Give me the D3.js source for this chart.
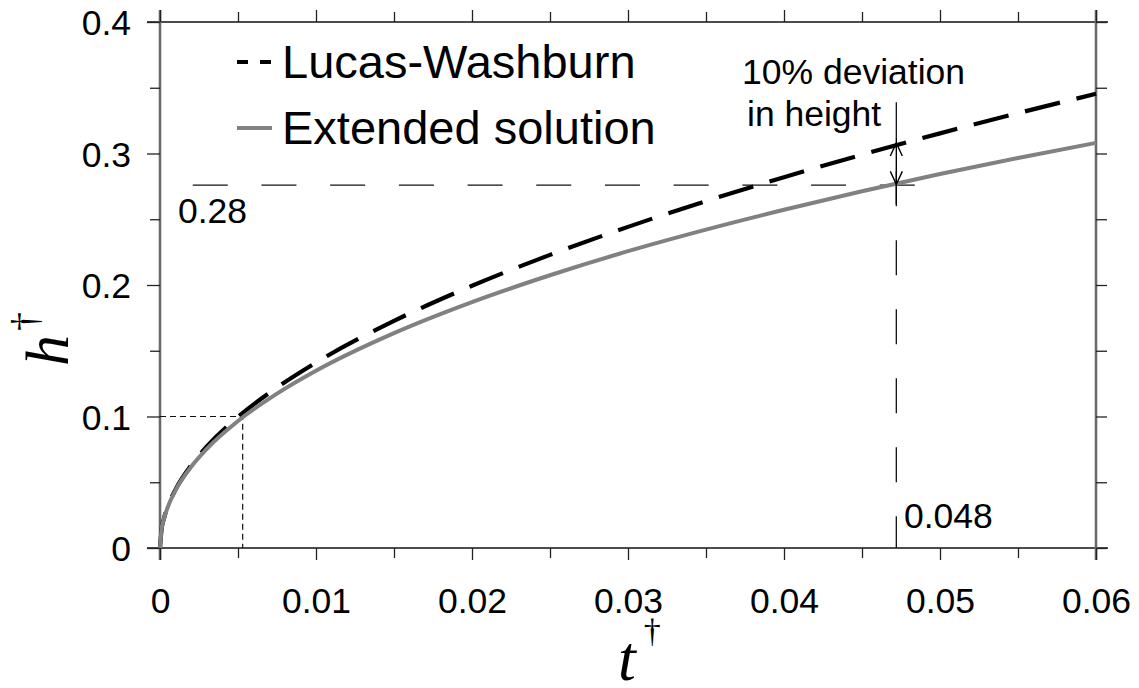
<!DOCTYPE html>
<html><head><meta charset="utf-8">
<script src="https://cdn.jsdelivr.net/npm/d3@7"></script>
<style>
html,body{margin:0;padding:0;background:#fff;}
svg{display:block;font-family:"Liberation Sans",Arial,sans-serif;}
</style></head>
<body><svg id="c" width="1139" height="688"></svg>
<script>
// ---- data ----
const tValues = [0, 0.0001, 0.00025, 0.0005, 0.001, 0.002, 0.003, 0.005, 0.0075, 0.01, 0.015, 0.02, 0.025, 0.03, 0.035, 0.04, 0.045, 0.05, 0.055, 0.06];
const lucasWashburn = [0, 0.0141, 0.0223, 0.0315, 0.0446, 0.0630, 0.0772, 0.0997, 0.1220, 0.1410, 0.1727, 0.1994, 0.2229, 0.2442, 0.2638, 0.2820, 0.2991, 0.3153, 0.3307, 0.3454];
const extendedSolution = [0, 0.0140, 0.0221, 0.0312, 0.0440, 0.0618, 0.0754, 0.0966, 0.1174, 0.1348, 0.1634, 0.1870, 0.2074, 0.2257, 0.2421, 0.2572, 0.2713, 0.2844, 0.2966, 0.3081];
const xMajorTicks = [0, 0.01, 0.02, 0.03, 0.04, 0.05, 0.06];
const xMinorTicks = [0.005, 0.015, 0.025, 0.035, 0.045, 0.055];
const xTickLabels = ["0", "0.01", "0.02", "0.03", "0.04", "0.05", "0.06"];
const yMajorTicks = [0, 0.1, 0.2, 0.3, 0.4];
const yMinorTicks = [0.05, 0.15, 0.25, 0.35];
const yTickLabels = ["0", "0.1", "0.2", "0.3", "0.4"];
const seriesNames = ["Lucas-Washburn", "Extended solution"];
// annotation values
const earlyPoint = [0.0053, 0.1];           // where the curves part
const deviationT = 0.0472;                   // vertical marker (labelled 0.048)
const deviationH = [0.2765, 0.308];          // extended vs Lucas-Washburn at deviationT
const refLineH = 0.276;                      // horizontal marker (labelled 0.28)
const refLineT = [0.0021, 0.0484];
const vertLineTop = 0.339;
const annoLabels = ["0.28", "0.048", "10% deviation", "in height"];

// ---- layout ----
const svg = d3.select("#c");
const x = d3.scaleLinear().domain([0, 0.06]).range([160, 1096]);
const y = d3.scaleLinear().domain([0, 0.4]).range([548, 22]);
const axisGray = "#6a6a6a";
const fontFam = '"Liberation Sans", Arial, sans-serif';
const tickFont = 35.5;

// axis frame lines
svg.append("line").attr("x1", 147).attr("x2", 1108).attr("y1", y(0)).attr("y2", y(0)).attr("stroke", "#111").attr("stroke-width", 1.6);
svg.append("line").attr("x1", 147).attr("x2", 1108).attr("y1", y(0.4)).attr("y2", y(0.4)).attr("stroke", "#111").attr("stroke-width", 1.6);
svg.append("line").attr("x1", x(0)).attr("x2", x(0)).attr("y1", 10).attr("y2", 560).attr("stroke", axisGray).attr("stroke-width", 2.6);
svg.append("line").attr("x1", x(0.06)).attr("x2", x(0.06)).attr("y1", 10).attr("y2", 560).attr("stroke", axisGray).attr("stroke-width", 2.6);

function styleAxis(g){ g.select(".domain").remove(); g.selectAll(".tick line").attr("stroke","#222").attr("stroke-width",1.3); }

// bottom axis
const gb = svg.append("g").attr("transform", `translate(0,${y(0)})`)
  .call(d3.axisBottom(x).tickValues(xMajorTicks).tickSize(12).tickFormat((d,i)=>xTickLabels[i]));
styleAxis(gb);
gb.selectAll("text").attr("y", 65).attr("dy", 0).attr("font-size", tickFont).attr("font-family", fontFam).attr("fill", "#000");
const gbm = svg.append("g").attr("transform", `translate(0,${y(0)})`)
  .call(d3.axisBottom(x).tickValues(xMinorTicks).tickSize(10).tickFormat(""));
styleAxis(gbm);
// top axis
const gt = svg.append("g").attr("transform", `translate(0,${y(0.4)})`)
  .call(d3.axisTop(x).tickValues(xMajorTicks).tickSize(12).tickFormat(""));
styleAxis(gt);
const gtm = svg.append("g").attr("transform", `translate(0,${y(0.4)})`)
  .call(d3.axisTop(x).tickValues(xMinorTicks).tickSize(10).tickFormat(""));
styleAxis(gtm);
// left axis
const gl = svg.append("g").attr("transform", `translate(${x(0)},0)`)
  .call(d3.axisLeft(y).tickValues(yMajorTicks).tickSize(13).tickFormat((d,i)=>yTickLabels[i]));
styleAxis(gl);
gl.selectAll("text").attr("x", -29).attr("dy", 0).attr("y", 12.5).attr("font-size", tickFont).attr("font-family", fontFam).attr("fill", "#000");
const glm = svg.append("g").attr("transform", `translate(${x(0)},0)`)
  .call(d3.axisLeft(y).tickValues(yMinorTicks).tickSize(10).tickFormat(""));
styleAxis(glm);
// right axis
const gr = svg.append("g").attr("transform", `translate(${x(0.06)},0)`)
  .call(d3.axisRight(y).tickValues(yMajorTicks.concat(yMinorTicks)).tickSize(11).tickFormat(""));
styleAxis(gr);

// axis titles
svg.append("text").attr("x", 618).attr("y", 680)
  .attr("font-family", '"Liberation Serif","Times New Roman",serif').attr("font-style", "italic").attr("font-size", 64)
  .text("t").append("tspan").attr("font-style","normal").attr("font-size", 34).attr("dy", -38).attr("dx", 8).text("†");
svg.append("text").attr("transform", "translate(68,366) rotate(-90)")
  .attr("font-family", '"Liberation Serif","Times New Roman",serif').attr("font-style", "italic").attr("font-size", 62)
  .text("h").append("tspan").attr("font-style","normal").attr("font-size", 38).attr("dy", -30).attr("dx", 4).text("†");

// annotation dashed lines
svg.append("path").attr("d", d3.line()([[x(0), y(earlyPoint[1])], [x(earlyPoint[0]), y(earlyPoint[1])], [x(earlyPoint[0]), y(0)]]))
  .attr("fill", "none").attr("stroke", "#111").attr("stroke-width", 1.2).attr("stroke-dasharray", "6,4");
svg.append("line").attr("x1", x(refLineT[0])).attr("x2", x(refLineT[1])).attr("y1", y(refLineH)).attr("y2", y(refLineH))
  .attr("stroke", "#111").attr("stroke-width", 1.3).attr("stroke-dasharray", "35,33.7");
svg.append("line").attr("x1", x(deviationT)).attr("x2", x(deviationT)).attr("y1", y(vertLineTop)).attr("y2", y(0))
  .attr("stroke", "#111").attr("stroke-width", 1.3).attr("stroke-dasharray", "35,34");

// curves
const line = d3.line().x((d,i)=>x(tValues[i])).y(d=>y(d)).curve(d3.curveMonotoneX);
svg.append("path").datum(lucasWashburn).attr("d", line).attr("fill","none").attr("stroke","#000").attr("stroke-width",4.2).attr("stroke-dasharray","36,17");
svg.append("path").datum(extendedSolution).attr("d", line).attr("fill","none").attr("stroke","#818181").attr("stroke-width",4);

// double arrow
const ax = x(deviationT), ay1 = y(deviationH[1]), ay2 = y(deviationH[0]);
svg.append("path").attr("d", `M${ax},${y(vertLineTop)+35}L${ax},${ay2+20}`).attr("stroke","#000").attr("stroke-width",1.4).attr("fill","none");
svg.append("path").attr("d", `M${ax-6},${ay1+13}L${ax},${ay1}L${ax+6},${ay1+13}M${ax-6},${ay2-13}L${ax},${ay2}L${ax+6},${ay2-13}`)
  .attr("stroke","#000").attr("stroke-width",1.4).attr("fill","none");

// annotation labels
const annoFont = 35.5;
svg.append("text").attr("x", 178).attr("y", 223).attr("font-size", annoFont).text(annoLabels[0]);
svg.append("text").attr("x", 904).attr("y", 528).attr("font-size", annoFont).text(annoLabels[1]);
svg.append("text").attr("x", 742).attr("y", 84).attr("font-size", annoFont).text(annoLabels[2]);
svg.append("text").attr("x", 747).attr("y", 126).attr("font-size", annoFont).text(annoLabels[3]);

// legend
const lg = svg.append("g");
lg.append("line").attr("x1", 237).attr("x2", 272).attr("y1", 62).attr("y2", 62).attr("stroke","#000").attr("stroke-width",4).attr("stroke-dasharray","11,12");
lg.append("text").attr("x", 282).attr("y", 78).attr("font-size", 47).text(seriesNames[0]);
lg.append("line").attr("x1", 237).attr("x2", 272).attr("y1", 128).attr("y2", 128).attr("stroke","#818181").attr("stroke-width",4);
lg.append("text").attr("x", 282).attr("y", 144).attr("font-size", 47).text(seriesNames[1]);
</script></body></html>
